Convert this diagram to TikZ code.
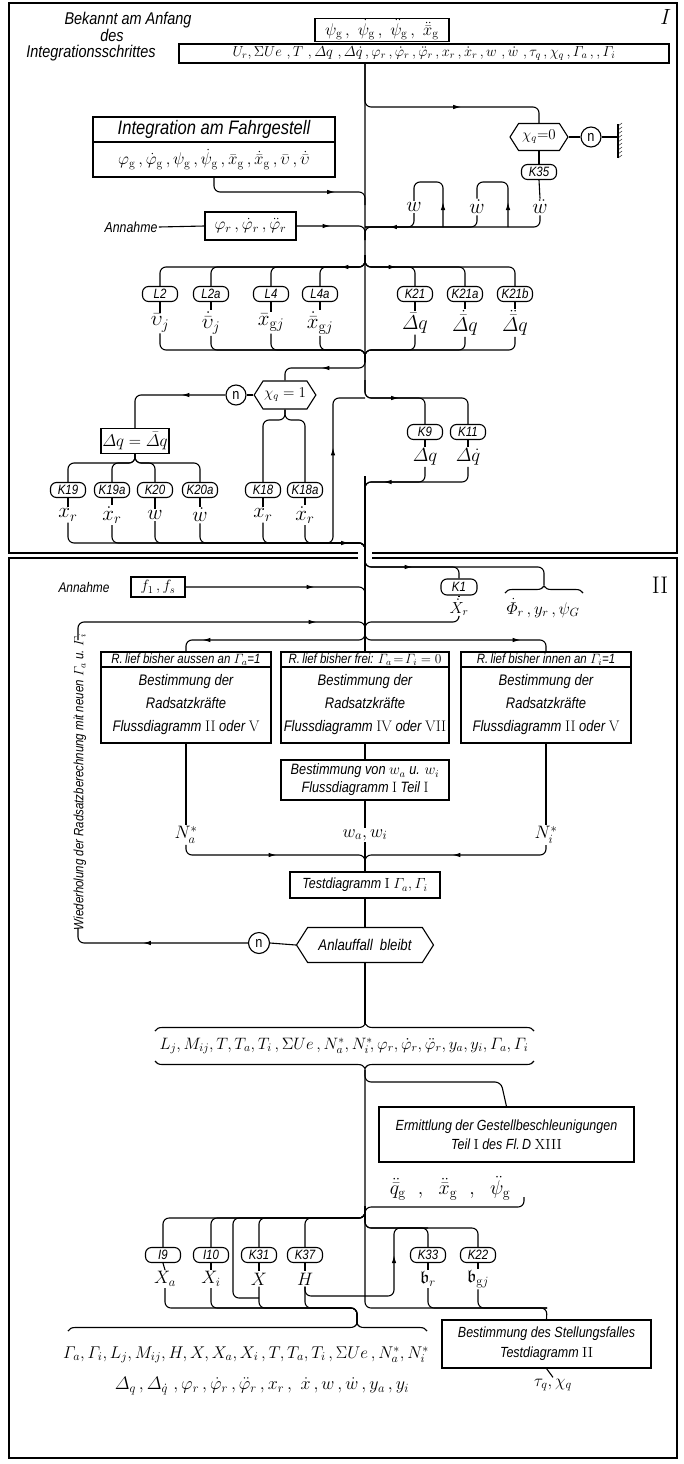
\RequirePackage{fix-cm}
\documentclass[tikz,border=0pt]{standalone}
\usepackage{amsmath,amssymb}
\usepackage{fontspec}
\newfontfamily\din{Liberation Sans}[FakeStretch=0.85]
\usetikzlibrary{arrows.meta,shapes.symbols,decorations.markings,decorations.pathreplacing}
\newcommand\fsz[1]{\fontsize{#1}{#1}\selectfont}
\newcommand\rn[1]{{\rmfamily\upshape #1}}
\newcommand\sg{\mathrm{g}}
\tikzset{
  txt/.style={font=\din\itshape\fsz{#1}, inner sep=1pt},
  txtl/.style 2 args={font=\din\itshape\fontsize{#1}{#2}\selectfont, inner sep=1pt},
  mth/.style={font=\fsz{#1}, inner sep=1pt},
  box/.style={draw, rectangle, inner sep=1pt, align=center},
  kbox/.style={draw, rounded corners=6pt, minimum width=35pt, minimum height=15pt,
    inner xsep=3pt, inner ysep=0pt, font=\din\itshape\fsz{13.5}},
  hexa/.style={draw, signal, signal to=west and east, signal pointer angle=115, inner sep=2pt},
  ncirc/.style={draw, circle, minimum size=20pt, inner sep=0pt, font=\din\fsz{15}},
  con/.style={rounded corners=6pt},
  arr/.style={postaction={decorate, decoration={markings,
    mark=at position #1 with {\arrow{Latex[length=8pt,width=4.5pt]}}}}},
  wrap/.style={decorate, decoration={brace, amplitude=7pt, aspect=#1}},
}
\begin{document}
\begin{tikzpicture}[x=1pt, y=-1pt, line width=1.1pt]
\useasboundingbox (0,0) rectangle (683,1464);
% Rahmen der beiden Teile
\draw[line width=1.5pt] (9,3) rectangle (677,553);
\draw[line width=1.5pt] (9,558) rectangle (677,1458);
\fill[white] (358,549) rectangle (372,562);
\coordinate (spine) at (365,0);
\coordinate (rowA) at (0,267);
\coordinate (rowB) at (0,1218);
\coordinate (wall) at (618,137);
\coordinate (phitip) at (544,585);
\coordinate (lpA) at (78,640);
\coordinate (lpB) at (78,928);

% ---------- Teil I ----------
\node[font=\rmfamily\itshape\fsz{22}] (nI) at (664,17) {I};
\node[txt=17] (bek) at (128,20) {Bekannt am Anfang};
\node[txt=17] (des) at (112,35) {des};
\node[txt=17] (intr) at (91,53) {Integrationsschrittes};
\node[box, mth=17, minimum width=134pt, minimum height=20pt] (psig) at (382,30)
  {$\psi_\sg\, ,\ \dot\psi_\sg\, ,\ \ddot\psi_\sg\, ,\ \ddot{\bar x}_\sg$};
\node[box, mth=14.5, minimum width=490pt, minimum height=19pt] (ur) at (424,53.5)
  {$U_r, \Sigma Ue\ , T\ , \varDelta q\ , \varDelta\dot q\, , \varphi_r\, , \dot\varphi_r\, , \ddot\varphi_r\, , x_r\, , \dot x_r\, , w\ , \dot w\ , \tau_q\, , \chi_q\, , \varGamma_a\, ,, \varGamma_i$};

\node[box, txt=19.5, minimum width=242pt, minimum height=25pt] (integ) at (214,129.5) {Integration am Fahrgestell};
\node[box, mth=17, minimum width=242pt, minimum height=35pt] (integf) at (214,159.5)
  {$\varphi_\sg\, , \dot\varphi_\sg\, , \psi_\sg\, , \dot\psi_\sg\, , \bar x_\sg\, , \dot{\bar x}_\sg\, , \bar\upsilon\, , \dot{\bar\upsilon}$};

\node[hexa, mth=15, minimum width=58pt, minimum height=27pt] (chi0) at (539,137) {$\chi_q{=}0$};
\node[ncirc] (n0) at (591,137) {n};
\node[kbox] (k35) at (539,172) {K35};
\node[mth=21] (wdd) at (540,207) {$\ddot w$};
\node[mth=21] (wd) at (477,207) {$\dot w$};
\node[mth=21] (w) at (414,207) {$w$};

\node[txt=14.5] (annI) at (131,227) {Annahme};
\node[box, mth=17, minimum width=91pt, minimum height=28pt] (phir) at (250.5,226)
  {$\varphi_r\, , \dot\varphi_r\, , \ddot\varphi_r$};

\foreach \n/\x/\lab in {l2/160/L2, l2a/211/L2a, l4/271/L4, l4a/320/L4a, k21/415/K21, k21a/465/K21a, k21b/515/K21b}
  \node[kbox] (\n) at (\x,294) {\lab};
\node[mth=21] (vj) at (160,323) {$\bar\upsilon_j$};
\node[mth=21] (vjd) at (211,323) {$\dot{\bar\upsilon}_j$};
\node[mth=21] (xgj) at (271,323) {$\bar x_{\sg j}$};
\node[mth=21] (xgjd) at (320,323) {$\dot{\bar x}_{\sg j}$};
\node[mth=20] (dqb) at (415,323) {$\bar\varDelta q$};
\node[mth=20] (dqbd) at (465,323) {$\dot{\bar\varDelta} q$};
\node[mth=20] (dqbdd) at (515,323) {$\ddot{\bar\varDelta} q$};

\node[hexa, mth=15, minimum width=60pt, minimum height=28pt] (chi1) at (285,395) {$\chi_q=1$};
\node[ncirc] (n1) at (236,395) {n};
\node[box, mth=17, minimum width=68pt, minimum height=25pt] (dq) at (135,441) {$\varDelta q = \bar\varDelta q$};
\node[kbox] (k9) at (425,432) {K9};
\node[kbox] (k11) at (468,432) {K11};
\node[mth=19] (dqo1) at (425,457) {$\varDelta q$};
\node[mth=19] (dqo2) at (468,457) {$\varDelta\dot q$};

\foreach \n/\x/\lab in {k19/68/K19, k19a/112/K19a, k20/155/K20, k20a/200/K20a, k18/263/K18, k18a/305/K18a}
  \node[kbox] (\n) at (\x,490) {\lab};
\node[mth=21] (xr1) at (68,515) {$x_r$};
\node[mth=21] (xrd1) at (112,515) {$\dot x_r$};
\node[mth=21] (w1) at (155,515) {$w$};
\node[mth=21] (wd1) at (200,515) {$\dot w$};
\node[mth=21] (xr2) at (263,515) {$x_r$};
\node[mth=21] (xrd2) at (305,515) {$\dot x_r$};

% Verbindungen Teil I
\draw[con, arr=366pt] (ur.south -| spine) |- (468,398) -- (k11.north);
\draw[con] (365,380) |- (425,398) -- (k9.north);
\draw[con, arr=137pt] (ur.south -| spine) |- (539,107) -- (chi0.north);
\draw (chi0.east) -- (n0.west);
\draw (n0.east) -- (wall);
\draw (618,124) -- (618,158);
\foreach \y in {126,130,...,158} \draw[line width=0.4pt] (618,\y) -- ++(4,-3);
\draw (chi0.south) -- (k35.north);
\draw (k35.south) -- (wdd.north);
\draw[con, arr=160pt] (wdd.south) |- (365,227) -- (365,240);
\draw[con] (wd.south) |- (365,227);
\draw[con] (w.south) |- (365,227);
\draw[con, arr=25pt] (443,227) |- (414,182) -- (w.north);
\draw[con, arr=25pt] (508,227) |- (477,182) -- (wd.north);
\draw[con, arr=133pt] (integf.south) |- (365,192) -- (365,205);
\draw (annI.east) -- (phir.west);
\draw[con, arr=34pt] (phir.east) -| (365,240);

\draw[con, arr=34pt] (365,255) |- (l2.north |- rowA) -- (l2.north);
\foreach \b in {l2a,l4,l4a,k21,k21a}
  \draw[con] (365,255) |- (\b.north |- rowA) -- (\b.north);
\draw[con, arr=41pt] (365,255) |- (k21b.north |- rowA) -- (k21b.north);
\foreach \k/\v in {l2/vj, l2a/vjd, l4/xgj, l4a/xgjd, k21/dqb, k21a/dqbd, k21b/dqbdd}
  \draw (\k.south) -- (\v.north);
\foreach \v in {vj,vjd,xgj,xgjd,dqb,dqbd,dqbdd}
  \draw[con] (\v.south) |- (365,350) -- (365,362);

\draw[con, arr=53pt] (365,356) |- (285,368) -- (chi1.north);
\draw (chi1.west) -- (n1.east);
\draw[con, arr=44pt] (n1.west) -| (dq.north);
\foreach \k in {k18,k18a} \draw[con] (chi1.south) -- (285,420) -| (\k.north);
\foreach \k in {k19,k19a,k20,k20a} \draw[con] (dq.south) -- (135,463) -| (\k.north);
\foreach \k/\v in {k19/xr1, k19a/xrd1, k20/w1, k20a/wd1, k18/xr2, k18a/xrd2, k9/dqo1, k11/dqo2}
  \draw (\k.south) -- (\v.north);

\draw[con, arr=299pt] (xr1.south) |- (365,543) -- (365,556);
\foreach \v in {xrd1,w1,wd1,xr2,xrd2} \draw[con] (\v.south) |- (365,543) -- (365,556);
\draw[con, arr=126pt] (300,543) -| (333,398) -- (365,398);
\draw[con, arr=97pt] (dqo2.south) |- (365,482) -- (365,495);
\draw[con] (dqo1.south) |- (365,482) -- (365,495);

% ---------- Teil II ----------
\node[font=\rmfamily\fsz{24}] (nII) at (660,585) {II};
\node[kbox, minimum width=36pt, minimum height=16pt] (k1) at (459,587) {K1};
\node[mth=16] (xr3) at (459,607) {$\dot X_r$};
\node[mth=17] (phil) at (543,608) {$\dot\varPhi_r\, , y_r\, , \psi_G$};
\node[txt=14] (annII) at (84,587) {Annahme};
\node[box, mth=15, minimum width=54pt, minimum height=20pt] (fbox) at (158,587) {$f_1\, , f_s$};

\node[box, txt=13.5, minimum width=170pt, minimum height=15pt] (b1h) at (186,659.5) {R.\,lief bisher aussen an $\varGamma_a$=1};
\node[box, txtl={15.3}{23}, minimum width=170pt, minimum height=76pt] (b1) at (186,705)
  {Bestimmung der\\Radsatzkräfte\\Flussdiagramm \rn{II} oder \rn{V}};
\node[box, txt=13.5, minimum width=168pt, minimum height=15pt] (b2h) at (365,659.5) {R.\,lief bisher frei: $\varGamma_a\!=\!\varGamma_i=0$};
\node[box, txtl={15.3}{23}, minimum width=168pt, minimum height=76pt] (b2) at (365,705)
  {Bestimmung der\\Radsatzkräfte\\Flussdiagramm \rn{IV} oder \rn{VII}};
\node[box, txt=13.5, minimum width=170pt, minimum height=15pt] (b3h) at (546,659.5) {R.\,lief bisher innen an $\varGamma_i$=1};
\node[box, txtl={15.3}{23}, minimum width=170pt, minimum height=76pt] (b3) at (546,705)
  {Bestimmung der\\Radsatzkräfte\\Flussdiagramm \rn{II} oder \rn{V}};
\node[box, txtl={15}{18}, minimum width=168pt, minimum height=40pt] (b4) at (365,780)
  {Bestimmung von $w_a$ u. $w_i$\\Flussdiagramm \rn{I} Teil \rn{I}};
\node[mth=18] (na) at (186,835) {$N_a^*$};
\node[mth=18] (wawi) at (365,835) {$w_a, w_i$};
\node[mth=18] (ni) at (546,835) {$N_i^*$};
\node[box, txt=14.7, minimum width=150pt, minimum height=26pt] (b5) at (365,885) {Testdiagramm \rn{I} $\varGamma_a, \varGamma_i$};
\node[hexa, txt=15.5, minimum width=137pt, minimum height=35pt] (hex) at (365,945) {Anlauffall\ \ bleibt};
\node[ncirc, minimum size=21pt] (n2) at (259,943) {n};
\node[txt=13.5, rotate=90] (rep) at (80,782)
  {Wiederholung der Radsatzberechnung mit neuen $\varGamma_a$ u. $\varGamma_i$};

\node[mth=16.5] (lset) at (344,1046)
  {$L_j, M_{ij}, T, T_a, T_i\, , \Sigma Ue\, , N_a^*, N_i^*\!, \varphi_r, \dot\varphi_r, \ddot\varphi_r, y_a, y_i, \varGamma_a, \varGamma_i$};
\coordinate (tip1) at (365,1024);
\coordinate (tip2) at (365,1068);
\node[box, txtl={14.7}{19}, minimum width=255pt, minimum height=55pt] (b6) at (506.5,1134.5)
  {Ermittlung der Gestellbeschleunigungen\\Teil \rn{I} des Fl.\,D \rn{XIII}};
\node[mth=20] (acc) at (450,1188) {$\ddot{\bar q}_\sg\ \ ,\ \ \ddot{\bar x}_\sg\ \ ,\ \ \ddot\psi_\sg$};
\coordinate (hook) at (524,1197);

\foreach \n/\x/\lab in {i9/163/I9, i10/211/I10, k31/259/K31, k37/305/K37, k33/428/K33, k22/478/K22}
  \node[kbox] (\n) at (\x,1255) {\lab};
\node[mth=18] (xa) at (165,1279) {$X_a$};
\node[mth=18] (xi) at (211,1279) {$X_i$};
\node[mth=18] (xx) at (259,1279) {$X$};
\node[mth=18] (hh) at (305,1279) {$H$};
\node[mth=18] (br) at (428,1279) {$\mathfrak b_r$};
\node[mth=18] (bgj) at (478,1279) {$\mathfrak b_{\sg j}$};

\coordinate (tip3) at (357,1324);
\node[mth=17] (gset) at (246,1355)
  {$\varGamma_a, \varGamma_i, L_j, M_{ij}, H, X, X_a, X_i\, , T, T_a, T_i\, , \Sigma Ue\, , N_a^*, N_i^*$};
\node[mth=18] (dset) at (262,1386)
  {$\varDelta_q\, , \varDelta_{\dot q}\ , \varphi_r\, , \dot\varphi_r\, , \ddot\varphi_r\, , x_r\, ,\ \dot x\, , w\, , \dot w\, , y_a\, , y_i$};
\node[box, txtl={14.7}{20}, minimum width=209pt, minimum height=48pt] (b7) at (546.5,1344)
  {Bestimmung des Stellungsfalles\\Testdiagramm \rn{II}};
\node[mth=17] (tq) at (553,1385) {$\tau_q, \chi_q$};

% Verbindungen Teil II
\draw[con, arr=136pt] (365,476) |- (459,567) -- (k1.north);
\draw[con] (365,476) |- (544,567) -- (phitip);
\draw (365,476) -- (b2h.north);
\draw (k1.south) -- (xr3.north);
\draw[con] (xr3.south) |- (365,622) -- (365,632);
\draw[wrap=0.5] (505,593) -- (583,593);
\draw[con, arr=129pt] (fbox.east) -| (365,600);
\draw[con, arr=254pt] (lpA) |- (365,622) -- (365,632);
\draw[con, arr=175pt] (365,625) |- (186,640) -- (b1h.north);
\draw[con, arr=168pt] (365,625) |- (546,640) -- (b3h.north);
\draw (b1.south) -- (na.north);
\draw (b3.south) -- (ni.north);
\draw (b2.south) -- (b4.north);
\draw (b4.south) -- (wawi.north);
\draw[con, arr=98pt] (na.south) |- (365,855) -- (b5.north);
\draw[con, arr=101pt] (ni.south) |- (365,855) -- (b5.north);
\draw (wawi.south) -- (b5.north);
\draw (b5.south) -- (hex.north);
\draw (hex.west) -- (n2.east);
\draw[con, arr=105pt] (n2.west) -| (lpB);
\draw (hex.south) -- (tip1);
\draw[wrap=0.555] (155,1031) -- (534,1031);
\draw[wrap=0.446] (534,1061) -- (155,1061);
\draw[con] (tip2) |- (547,1308) -- (b7.north);
\draw[con] (365,1070) |- (501,1082) -- (b6.north);
\draw[con] (hook) |- (365,1207) -- (365,1220);
\foreach \k in {i9,i10,k31,k37} \draw[con] (365,1206) |- (\k.north |- rowB) -- (\k.north);
\draw[con] (365,1206) |- (233,1218) |- (259,1298);
\draw[con] (365,1214) |- (478,1228) -- (k22.north);
\draw[con] (365,1214) |- (428,1228) -- (k33.north);
\foreach \k/\v in {i9/xa, i10/xi, k31/xx, k37/hh, k33/br, k22/bgj} \draw (\k.south) -- (\v.north);
\draw[con, arr=134pt] (hh.south) |- (394,1296) -- (394,1228) -- (428,1228);
\foreach \v in {xa,xi,xx,hh} \draw[con] (\v.south) |- (357,1308) -- (tip3);
\draw[wrap=0.805] (68,1331) -- (427,1331);
\draw[con] (br.south) |- (547,1308);
\draw[con] (bgj.south) |- (547,1308);
\draw (b7.south) -- (tq.north);
\end{tikzpicture}
\end{document}
